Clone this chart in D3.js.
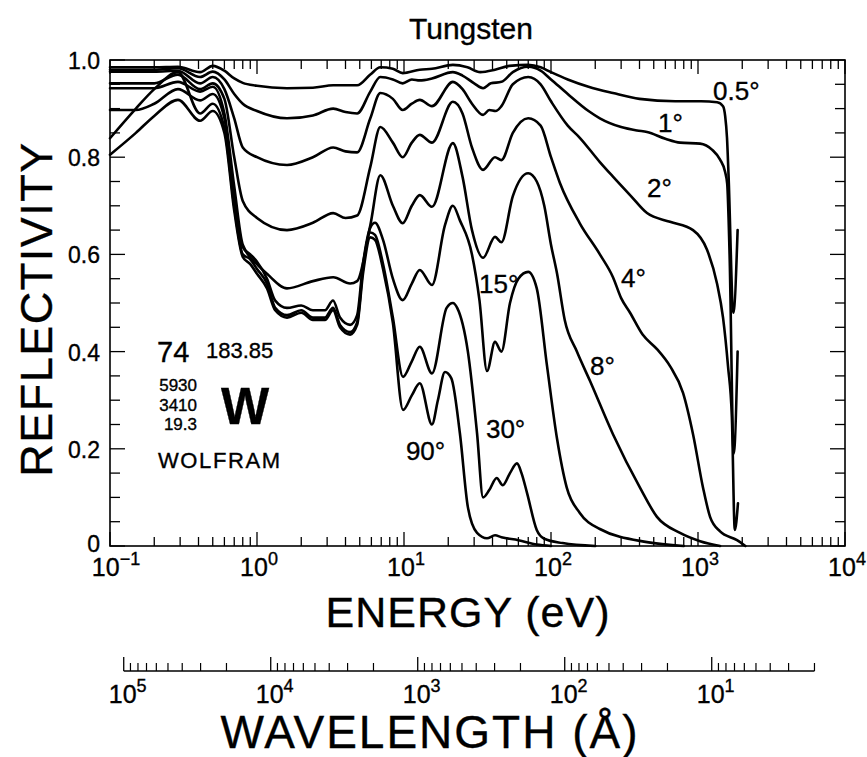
<!DOCTYPE html>
<html><head><meta charset="utf-8">
<script src="https://cdn.jsdelivr.net/npm/d3@7"></script>
<style>
body{margin:0;background:#fff}
svg{display:block}
text{font-family:"Liberation Sans",Arial,Helvetica,sans-serif;fill:#000;stroke:#000;stroke-width:0.35px}
</style>
</head><body>
<svg id="c" width="867" height="757"></svg>
<script>
// ---------- data (energy in eV, reflectivity 0..1) ----------
const chartTitle = "Tungsten";
const xAxisTitle = "ENERGY (eV)";
const yAxisTitle = "REFLECTIVITY";
const wlAxisTitle = "WAVELENGTH (Å)";

const r05 = [[0.1,0.985],[0.2,0.985],[0.29,0.986],[0.41,0.975],[0.5,0.988],[0.6,0.978],[0.7,0.962],[0.8,0.953],[1.0,0.947],[1.6,0.942],[2.4,0.943],[3.3,0.948],[4.8,0.948],[5.9,0.97],[6.9,0.985],[8.4,0.982],[9.8,0.973],[12.8,0.98],[15.5,0.982],[21.5,0.99],[27,0.985],[33,0.975],[41.6,0.98],[52,0.988],[70,0.99],[85,0.985],[100,0.975],[130,0.96],[180,0.945],[264,0.932],[400,0.92],[700,0.915],[1050,0.915],[1350,0.913],[1480,0.905],[1530,0.885],[1575,0.84],[1615,0.76],[1740,0.48],[1860,0.65]];
const r1 = [[0.1,0.98],[0.2,0.98],[0.29,0.983],[0.41,0.965],[0.5,0.976],[0.6,0.96],[0.7,0.93],[0.8,0.91],[1.0,0.895],[1.6,0.88],[2.4,0.886],[3.3,0.90],[4.0,0.893],[4.8,0.89],[5.9,0.935],[6.9,0.965],[8.4,0.96],[9.8,0.952],[11.3,0.96],[12.8,0.958],[15.5,0.962],[21.5,0.975],[25,0.968],[30,0.952],[34.5,0.942],[39,0.952],[46,0.955],[55,0.975],[70,0.986],[85,0.978],[100,0.96],[130,0.93],[180,0.895],[215,0.88],[300,0.862],[385,0.855],[450,0.852],[600,0.838],[755,0.83],[1033,0.828],[1250,0.815],[1413,0.795],[1528,0.77],[1580,0.745],[1640,0.6],[1750,0.19],[1860,0.40]];
const r2 = [[0.1,0.976],[0.2,0.976],[0.29,0.978],[0.41,0.952],[0.5,0.965],[0.6,0.94],[0.7,0.88],[0.8,0.82],[1.0,0.80],[1.6,0.784],[2.4,0.80],[3.3,0.82],[4.0,0.812],[4.8,0.81],[5.9,0.88],[6.9,0.932],[8.4,0.92],[9.8,0.897],[11.3,0.91],[12.8,0.918],[15.5,0.905],[21.5,0.955],[25,0.94],[29,0.91],[34.5,0.887],[38,0.897],[42,0.895],[46,0.905],[55,0.95],[70,0.965],[85,0.95],[100,0.915],[130,0.865],[157,0.84],[215,0.79],[264,0.76],[350,0.72],[450,0.685],[645,0.667],[925,0.65],[1150,0.61],[1347,0.54],[1480,0.47],[1600,0.37],[1700,0.265],[1780,0.033],[1870,0.088]];
const r4 = [[0.1,0.952],[0.2,0.952],[0.29,0.97],[0.41,0.94],[0.5,0.952],[0.6,0.92],[0.7,0.80],[0.8,0.71],[1.0,0.675],[1.6,0.65],[2.4,0.665],[3.3,0.685],[4.0,0.675],[4.8,0.68],[5.9,0.78],[6.9,0.862],[8.4,0.83],[9.8,0.80],[11.3,0.83],[12.8,0.846],[15.5,0.83],[21.5,0.914],[25,0.89],[29,0.82],[34.5,0.774],[41.6,0.80],[46,0.794],[55,0.85],[70,0.88],[85,0.865],[100,0.80],[115,0.747],[157,0.664],[215,0.60],[264,0.553],[300,0.51],[345,0.48],[420,0.435],[526,0.405],[645,0.37],[791,0.315],[925,0.23],[1082,0.12],[1208,0.06],[1413,0.03],[1843,0.012],[2100,0.0]];
const r8 = [[0.1,0.942],[0.2,0.942],[0.29,0.955],[0.41,0.935],[0.5,0.945],[0.6,0.89],[0.7,0.74],[0.8,0.62],[1.0,0.58],[1.17,0.56],[1.6,0.53],[2.4,0.545],[3.3,0.553],[4.3,0.54],[4.8,0.545],[5.9,0.66],[6.9,0.763],[8.4,0.70],[9.8,0.664],[11.3,0.70],[12.8,0.722],[15.5,0.698],[21.5,0.829],[25,0.76],[29,0.65],[34.5,0.593],[41.6,0.636],[46,0.625],[55,0.72],[70,0.767],[80,0.75],[90,0.70],[100,0.62],[110,0.56],[124,0.465],[150,0.40],[184,0.34],[264,0.23],[403,0.12],[526,0.06],[755,0.027],[1033,0.01],[1413,0.0]];
const r15 = [[0.1,0.897],[0.15,0.897],[0.2,0.91],[0.29,0.94],[0.41,0.917],[0.5,0.93],[0.6,0.88],[0.7,0.72],[0.8,0.615],[0.9,0.60],[1.0,0.585],[1.17,0.55],[1.33,0.505],[1.6,0.49],[2.0,0.495],[2.4,0.485],[2.9,0.485],[3.29,0.505],[3.67,0.47],[4.3,0.455],[4.8,0.475],[5.26,0.58],[5.9,0.655],[6.35,0.665],[7.2,0.63],[8.4,0.55],[9.8,0.506],[11.3,0.54],[12.8,0.568],[15.5,0.537],[19,0.66],[21.5,0.70],[24,0.67],[29,0.60],[32.6,0.506],[36.7,0.36],[41.6,0.42],[46,0.40],[52.6,0.50],[60,0.55],[70,0.564],[80,0.53],[94,0.37],[110,0.22],[128,0.12],[157,0.068],[215,0.035],[450,0.008],[800,0.0]];
const r30 = [[0.1,0.839],[0.15,0.9],[0.2,0.94],[0.29,0.975],[0.41,0.89],[0.5,0.91],[0.6,0.86],[0.7,0.70],[0.8,0.60],[0.9,0.59],[1.0,0.57],[1.17,0.54],[1.33,0.49],[1.6,0.475],[2.0,0.485],[2.4,0.47],[2.9,0.47],[3.29,0.49],[3.67,0.455],[4.3,0.44],[4.8,0.46],[5.26,0.57],[5.9,0.645],[6.35,0.64],[7.2,0.58],[8.4,0.47],[9.85,0.348],[11.3,0.38],[12.8,0.41],[15.5,0.355],[19.5,0.49],[21.5,0.50],[23,0.49],[27.2,0.40],[31.4,0.232],[34.5,0.10],[38,0.115],[42.7,0.14],[47,0.125],[52.6,0.15],[58.7,0.17],[63,0.15],[68.6,0.11],[80,0.033],[90,0.015],[120,0.006],[200,0.0]];
const r90 = [[0.1,0.805],[0.15,0.85],[0.2,0.885],[0.29,0.918],[0.41,0.875],[0.5,0.895],[0.6,0.85],[0.7,0.69],[0.8,0.595],[0.9,0.58],[1.0,0.56],[1.17,0.53],[1.33,0.485],[1.6,0.47],[2.0,0.48],[2.4,0.465],[2.9,0.465],[3.29,0.485],[3.67,0.45],[4.3,0.435],[4.8,0.455],[5.26,0.56],[5.9,0.635],[6.35,0.63],[7.2,0.57],[8.4,0.459],[9.85,0.28],[11.3,0.31],[12.8,0.335],[15.5,0.25],[17,0.30],[19,0.358],[21,0.345],[24,0.232],[27.2,0.08],[31.4,0.027],[36.7,0.016],[41.6,0.022],[46,0.018],[60,0.012],[80,0.003],[100,0.0]];

const seriesList = [r05, r1, r2, r4, r8, r15, r30, r90];
const angleLabels = ["0.5°","1°","2°","4°","8°","15°","30°","90°"];
const labelE = [1265, 535, 450, 299, 184, 32.4, 36.1, 10.3];
const labelR = [0.918, 0.852, 0.718, 0.533, 0.352, 0.521, 0.222, 0.177];

const yTickValues = [0, 0.2, 0.4, 0.6, 0.8, 1.0];
const yTickLabels = ["0", "0.2", "0.4", "0.6", "0.8", "1.0"];
const eDecadeExps = [-1, 0, 1, 2, 3, 4];
const wlDecadeExps = [5, 4, 3, 2, 1];
const wlLimits = [100000, 2];
const hcEvAngstrom = 12398.4;

const elemNumber = "74", elemMass = "183.85", elemSymbol = "W", elemName = "WOLFRAM";
const elemProps = ["5930", "3410", "19.3"];

// ---------- drawing ----------
const svg = d3.select("#c");
const L = 110, R = 845, T = 60, B = 546;
const x = d3.scaleLog().domain([0.1, 1e4]).range([L, R]);
const y = d3.scaleLinear().domain([0, 1]).range([B, T]);
const wl = d3.scaleLog().domain([hcEvAngstrom / 0.1, hcEvAngstrom / 1e4]).range([L, R]);

// title
svg.append("text").attr("x", 471).attr("y", 39).attr("text-anchor", "middle")
  .attr("font-size", 30).text(chartTitle);

// frame
const g = svg.append("g");
g.append("rect").attr("x", L).attr("y", T).attr("width", R - L).attr("height", B - T)
  .attr("fill", "none").attr("stroke", "#000").attr("stroke-width", 1.6);

// energy ticks
const eMajor = eDecadeExps.map(k => Math.pow(10, k));
const eMinor = [];
eDecadeExps.slice(0, -1).forEach(k => { for (let n = 2; n <= 9; n++) eMinor.push(n * Math.pow(10, k)); });
function tickLines(vals, len) {
  vals.forEach(v => {
    const px = x(v);
    g.append("line").attr("x1", px).attr("x2", px).attr("y1", B).attr("y2", B - len).attr("stroke", "#000").attr("stroke-width", 1.3);
    g.append("line").attr("x1", px).attr("x2", px).attr("y1", T).attr("y2", T + len).attr("stroke", "#000").attr("stroke-width", 1.3);
  });
}
tickLines(eMajor, 14);
tickLines(eMinor, 9);

// y ticks every 0.05
d3.range(0, 21).forEach(i => {
  const v = i * 0.05;
  const major = i % 4 === 0;
  const len = major ? 15 : 10;
  const py = y(v);
  g.append("line").attr("x1", L).attr("x2", L + len).attr("y1", py).attr("y2", py).attr("stroke", "#000").attr("stroke-width", 1.3);
  g.append("line").attr("x1", R).attr("x2", R - len).attr("y1", py).attr("y2", py).attr("stroke", "#000").attr("stroke-width", 1.3);
});

// y labels
yTickValues.forEach((v, i) => {
  svg.append("text").attr("x", 100).attr("y", y(v) + (v === 0 ? 6 : 9)).attr("text-anchor", "end")
    .attr("font-size", 23).text(yTickLabels[i]);
});

// x labels
function powLabel(px, py, exp, fs, sfs) {
  const t = svg.append("text").attr("x", px).attr("y", py).attr("text-anchor", "middle").attr("font-size", fs);
  t.append("tspan").text("10");
  t.append("tspan").attr("dy", -fs * 0.45).attr("font-size", sfs).text(exp < 0 ? "\u2212" + (-exp) : String(exp));
}
eDecadeExps.forEach(k => powLabel(x(Math.pow(10, k)) + (k < 0 ? 6 : 2), 576, k, 25, 18));

// axis titles
svg.append("text").attr("x", 468).attr("y", 627).attr("text-anchor", "middle")
  .attr("font-size", 43).attr("letter-spacing", 1).text(xAxisTitle);
svg.append("text").attr("transform", "translate(52,309) rotate(-90)").attr("text-anchor", "middle")
  .attr("font-size", 45).attr("letter-spacing", 1.5).text(yAxisTitle);

// curves
const line = d3.line().x(d => x(d[0])).y(d => y(d[1])).curve(d3.curveMonotoneX);
seriesList.forEach(s => {
  g.append("path").attr("d", line(s)).attr("fill", "none").attr("stroke", "#000")
    .attr("stroke-width", 2.6).attr("stroke-linejoin", "round").attr("stroke-linecap", "round");
});

// curve labels
angleLabels.forEach((lab, i) => {
  svg.append("text").attr("x", x(labelE[i])).attr("y", y(labelR[i]))
    .attr("font-size", 26).text(lab);
});

// element box
svg.append("text").attr("x", 157).attr("y", 362).attr("font-size", 29).text(elemNumber);
svg.append("text").attr("x", 206).attr("y", 358).attr("font-size", 22).text(elemMass);
elemProps.forEach((p, i) => {
  svg.append("text").attr("x", 197).attr("y", 391 + i * 19.5).attr("text-anchor", "end")
    .attr("font-size", 17).text(p);
});
svg.append("text").attr("x", 221).attr("y", 424).attr("font-size", 51).attr("font-weight", "bold").text(elemSymbol);
svg.append("text").attr("x", 158).attr("y", 468).attr("font-size", 22).attr("letter-spacing", 1.6).text(elemName);

// wavelength axis
const wy = 671;
const wg = svg.append("g");
wg.append("line").attr("x1", wl(wlLimits[0])).attr("x2", wl(wlLimits[1])).attr("y1", wy).attr("y2", wy)
  .attr("stroke", "#000").attr("stroke-width", 1.4);
const wMajor = wlDecadeExps.map(k => Math.pow(10, k));
const wMinor = [];
[4, 3, 2, 1, 0].forEach(k => { for (let n = 2; n <= 9; n++) { const v = n * Math.pow(10, k); if (v >= wlLimits[1] && v < wlLimits[0]) wMinor.push(v); } });
wMajor.forEach(v => wg.append("line").attr("x1", wl(v)).attr("x2", wl(v)).attr("y1", wy).attr("y2", wy - 14).attr("stroke", "#000").attr("stroke-width", 1.3));
wMinor.forEach(v => wg.append("line").attr("x1", wl(v)).attr("x2", wl(v)).attr("y1", wy).attr("y2", wy - 8).attr("stroke", "#000").attr("stroke-width", 1.2));
wlDecadeExps.forEach(k => powLabel(wl(Math.pow(10, k)) + 4, 703, k, 25, 18));

svg.append("text").attr("x", 430).attr("y", 748).attr("text-anchor", "middle")
  .attr("font-size", 46).attr("letter-spacing", 2).text(wlAxisTitle);
</script>
</body></html>
